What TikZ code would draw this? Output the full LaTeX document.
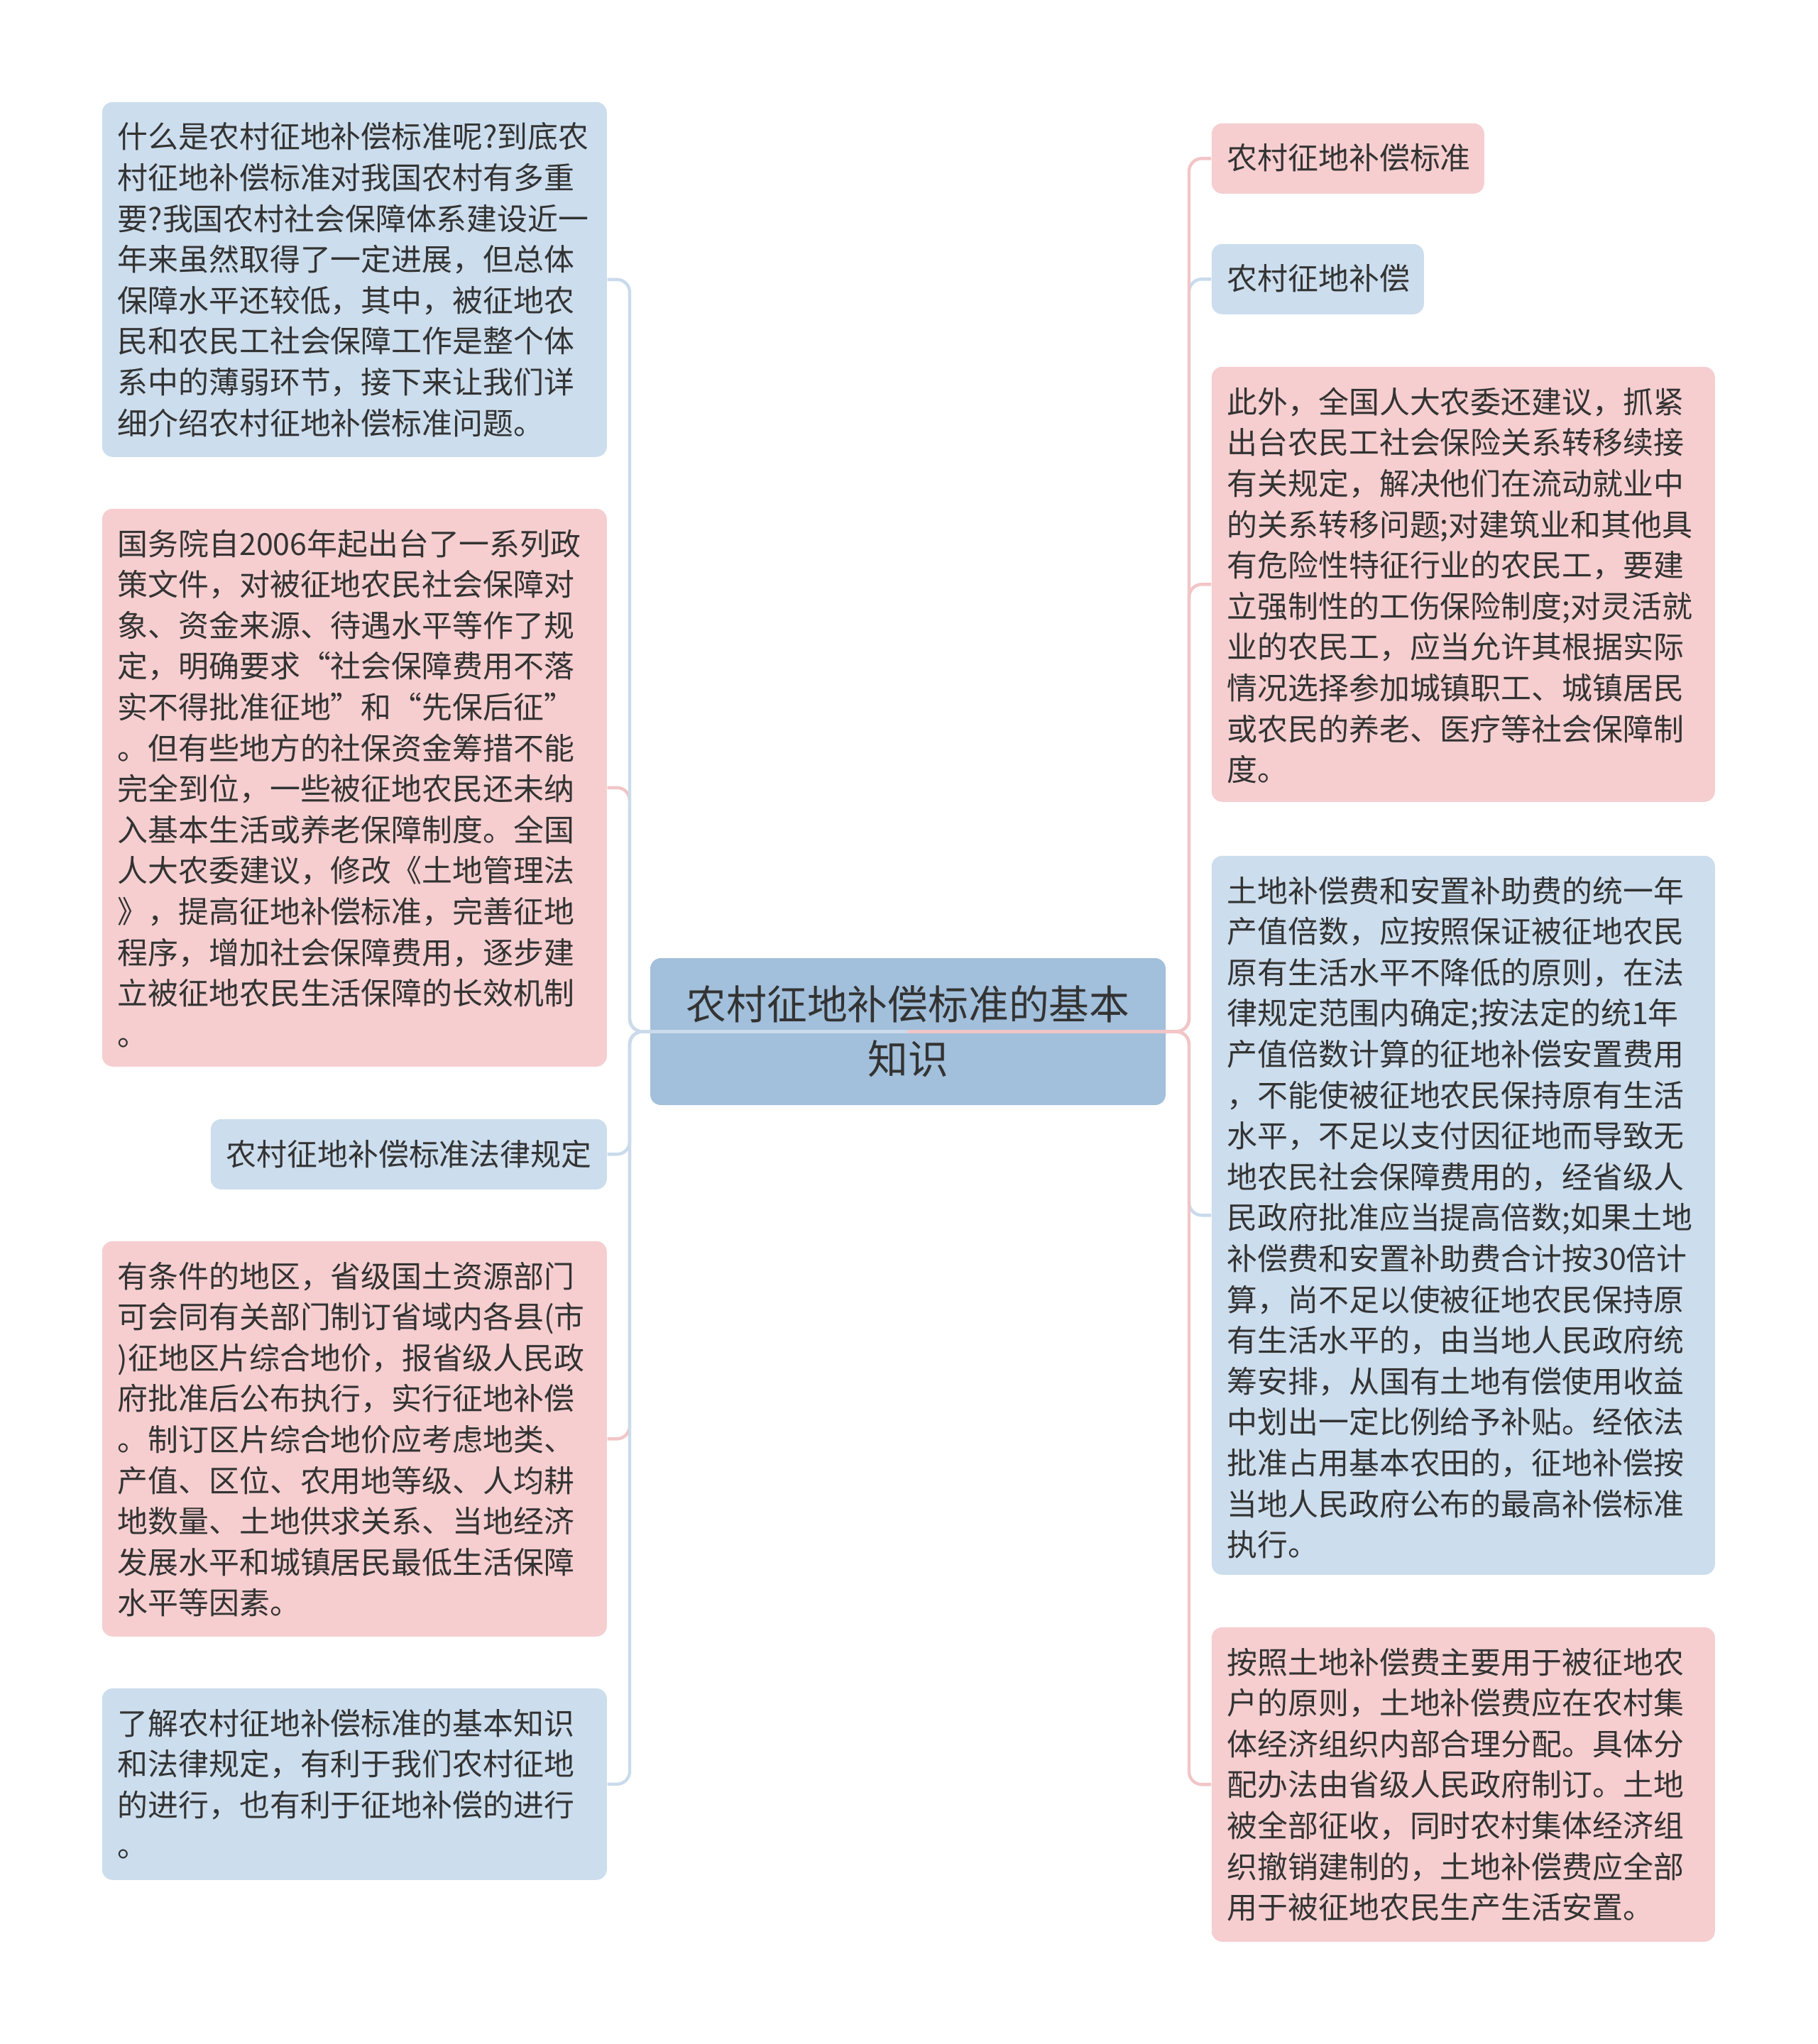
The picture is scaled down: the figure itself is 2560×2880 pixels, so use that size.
\documentclass[tikz,border=0pt]{standalone}
\usepackage{fontspec}
\setmainfont{Noto Sans CJK SC}
\definecolor{nb}{HTML}{CCDDED}
\definecolor{np}{HTML}{F6CED0}
\definecolor{nc}{HTML}{A2BFDB}
\definecolor{lb}{HTML}{C9DBEC}
\definecolor{lp}{HTML}{F2C5C7}
\definecolor{tc}{HTML}{333333}
\tikzset{
  box/.style={rounded corners=3.75pt, inner sep=0pt, anchor=north west},
  bluebox/.style={box, fill=nb},
  pinkbox/.style={box, fill=np},
  txt/.style={anchor=north west, inner sep=0pt, align=left, text=tc,
    font=\fontsize{10.72pt}{14.4pt}\selectfont},
  cb/.style={draw=lb, line width=1.1pt, rounded corners=4.5pt},
  cp/.style={draw=lp, line width=1.1pt, rounded corners=4.5pt},
  tshift/.style={shift={(5.5pt,-7.25pt)}}
}
\begin{document}
\begin{tikzpicture}[x=0.25pt,y=-0.25pt]
\path[use as bounding box, fill=white] (0,0) rectangle (2560,2880);

% left boxes
\node[bluebox, minimum width=177.75pt, minimum height=125pt] (n1) at (143,143) {};
\node[txt] (n1t) at ([tshift]n1.north west) {什么是农村征地补偿标准呢?到底农\\村征地补偿标准对我国农村有多重\\要?我国农村社会保障体系建设近一\\年来虽然取得了一定进展，但总体\\保障水平还较低，其中，被征地农\\民和农民工社会保障工作是整个体\\系中的薄弱环节，接下来让我们详\\细介绍农村征地补偿标准问题。};

\node[pinkbox, minimum width=177.75pt, minimum height=196.5pt] (n2) at (143,716) {};
\node[txt] (n2t) at ([tshift]n2.north west) {国务院自2006年起出台了一系列政\\策文件，对被征地农民社会保障对\\象、资金来源、待遇水平等作了规\\定，明确要求“社会保障费用不落\\实不得批准征地”和“先保后征”\\。但有些地方的社保资金筹措不能\\完全到位，一些被征地农民还未纳\\入基本生活或养老保障制度。全国\\人大农委建议，修改《土地管理法\\》，提高征地补偿标准，完善征地\\程序，增加社会保障费用，逐步建\\立被征地农民生活保障的长效机制\\。};

\node[bluebox, minimum width=139.5pt, minimum height=24.75pt] (n3) at (296,1576) {};
\node[txt] (n3t) at ([tshift]n3.north west) {农村征地补偿标准法律规定};

\node[pinkbox, minimum width=177.75pt, minimum height=139.25pt] (n4) at (143,1748) {};
\node[txt] (n4t) at ([tshift]n4.north west) {有条件的地区，省级国土资源部门\\可会同有关部门制订省域内各县(市\\)征地区片综合地价，报省级人民政\\府批准后公布执行，实行征地补偿\\。制订区片综合地价应考虑地类、\\产值、区位、农用地等级、人均耕\\地数量、土地供求关系、当地经济\\发展水平和城镇居民最低生活保障\\水平等因素。};

\node[bluebox, minimum width=177.75pt, minimum height=67.5pt] (n5) at (143,2378) {};
\node[txt] (n5t) at ([tshift]n5.north west) {了解农村征地补偿标准的基本知识\\和法律规定，有利于我们农村征地\\的进行，也有利于征地补偿的进行\\。};

% center
\node[fill=nc, rounded corners=3.75pt, inner sep=0pt, minimum width=181.5pt, minimum height=51.75pt,
  align=center, text=tc, font=\fontsize{14.2pt}{19.3pt}\selectfont] (c) at (1279,1453.5) {农村征地补偿标准的基本\\知识};

% right boxes
\node[pinkbox, minimum width=96pt, minimum height=24.75pt] (r1) at (1706,173) {};
\node[txt] (r1t) at ([tshift]r1.north west) {农村征地补偿标准};

\node[bluebox, minimum width=74.75pt, minimum height=24.75pt] (r2) at (1706,343) {};
\node[txt] (r2t) at ([tshift]r2.north west) {农村征地补偿};

\node[pinkbox, minimum width=177.25pt, minimum height=153.25pt] (r3) at (1706,516) {};
\node[txt] (r3t) at ([tshift]r3.north west) {此外，全国人大农委还建议，抓紧\\出台农民工社会保险关系转移续接\\有关规定，解决他们在流动就业中\\的关系转移问题;对建筑业和其他具\\有危险性特征行业的农民工，要建\\立强制性的工伤保险制度;对灵活就\\业的农民工，应当允许其根据实际\\情况选择参加城镇职工、城镇居民\\或农民的养老、医疗等社会保障制\\度。};

\node[bluebox, minimum width=177.25pt, minimum height=253.25pt] (r4) at (1706,1205) {};
\node[txt] (r4t) at ([tshift]r4.north west) {土地补偿费和安置补助费的统一年\\产值倍数，应按照保证被征地农民\\原有生活水平不降低的原则，在法\\律规定范围内确定;按法定的统1年\\产值倍数计算的征地补偿安置费用\\，不能使被征地农民保持原有生活\\水平，不足以支付因征地而导致无\\地农民社会保障费用的，经省级人\\民政府批准应当提高倍数;如果土地\\补偿费和安置补助费合计按30倍计\\算，尚不足以使被征地农民保持原\\有生活水平的，由当地人民政府统\\筹安排，从国有土地有偿使用收益\\中划出一定比例给予补贴。经依法\\批准占用基本农田的，征地补偿按\\当地人民政府公布的最高补偿标准\\执行。};

\node[pinkbox, minimum width=177.25pt, minimum height=110.75pt] (r5) at (1706,2292) {};
\node[txt] (r5t) at ([tshift]r5.north west) {按照土地补偿费主要用于被征地农\\户的原则，土地补偿费应在农村集\\体经济组织内部合理分配。具体分\\配办法由省级人民政府制订。土地\\被全部征收，同时农村集体经济组\\织撤销建制的，土地补偿费应全部\\用于被征地农民生产生活安置。};

% connectors
\coordinate (tl) at (887,1453.5);
\coordinate (tr) at (1675,1453.5);
\draw[cp] (c.center) -- (tl) -- (tl |- n2.east) -- (n2.east);
\draw[cp] (c.center) -- (tl) -- (tl |- n4.east) -- (n4.east);
\draw[cb] (c.center) -- (tl) -- (tl |- n1.east) -- (n1.east);
\draw[cb] (c.center) -- (tl) -- (tl |- n3.east) -- (n3.east);
\draw[cb] (c.center) -- (tl) -- (tl |- n5.east) -- (n5.east);
\draw[cb] (c.center) -- (tr) -- (tr |- r2.west) -- (r2.west);
\draw[cb] (c.center) -- (tr) -- (tr |- r4.west) -- (r4.west);
\draw[cp] (c.center) -- (tr) -- (tr |- r1.west) -- (r1.west);
\draw[cp] (c.center) -- (tr) -- (tr |- r3.west) -- (r3.west);
\draw[cp] (c.center) -- (tr) -- (tr |- r5.west) -- (r5.west);
\end{tikzpicture}
\end{document}
